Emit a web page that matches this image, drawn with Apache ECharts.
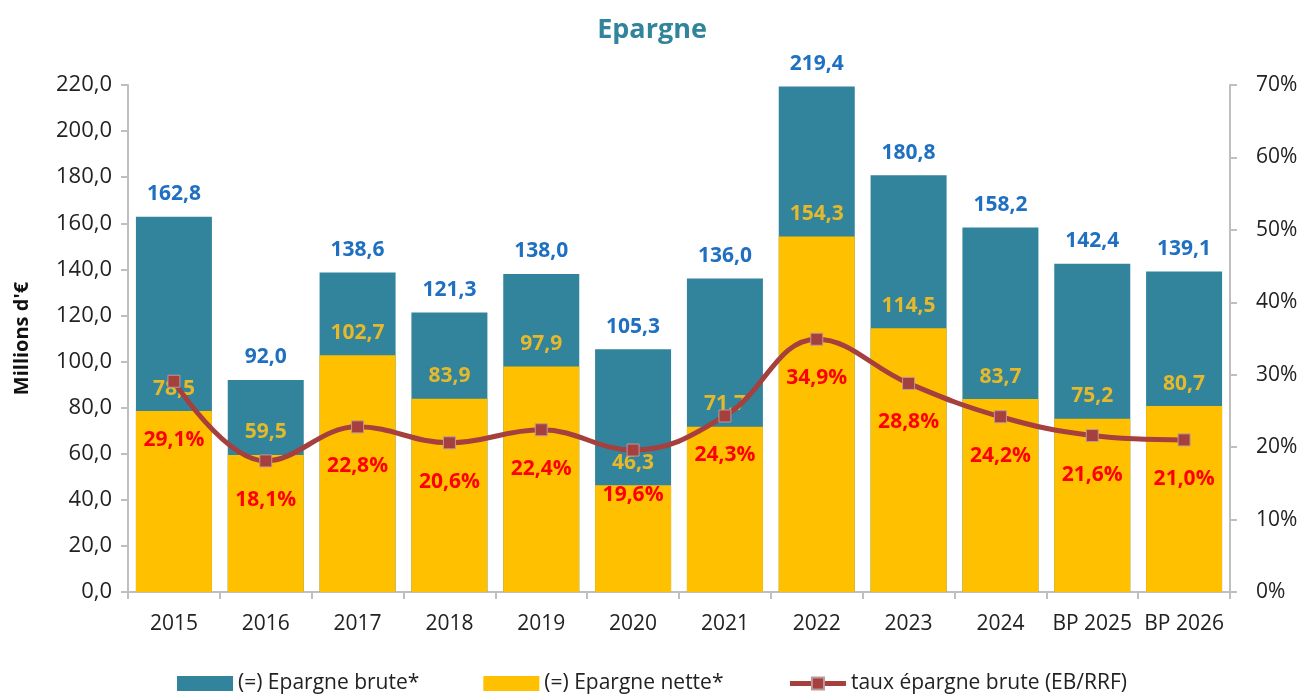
<!DOCTYPE html>
<html><head><meta charset="utf-8">
<script src="https://cdn.jsdelivr.net/npm/echarts@6/dist/echarts.min.js"></script>
<style>html,body{margin:0;padding:0;background:#fff}#c{width:1304px;height:696px}</style>
</head><body><div id="c"></div>
<script>
const categories = ['2015','2016','2017','2018','2019','2020','2021','2022','2023','2024','BP 2025','BP 2026'];
const brute = [162.8, 92.0, 138.6, 121.3, 138.0, 105.3, 136.0, 219.4, 180.8, 158.2, 142.4, 139.1];
const nette = [78.5, 59.5, 102.7, 83.9, 97.9, 46.3, 71.7, 154.3, 114.5, 83.7, 75.2, 80.7];
const taux = [29.1, 18.1, 22.8, 20.6, 22.4, 19.6, 24.3, 34.9, 28.8, 24.2, 21.6, 21.0];
const FONT = '"Open Sans", "Noto Sans", sans-serif';
const fmt = v => v.toFixed(1).replace('.', ',');
const chart = echarts.init(document.getElementById('c'));
const tauxData = taux.map((v, i) => i === 0 ? {value: v, label: {distance: 42}} : (i === 5 ? {value: v, label: {distance: 28}} : v));
chart.setOption({
  animation: false,
  textStyle: {fontFamily: FONT},
  title: {text: 'Epargne', left: 'center', top: 12, textStyle: {color: '#31849B', fontSize: 27, fontWeight: 'bold', fontFamily: FONT}},
  grid: {left: 128, right: 74, top: 85, bottom: 104},
  legend: {
    top: 668, itemGap: 64, itemWidth: 56, itemHeight: 15,
    textStyle: {fontSize: 21, color: '#222', fontFamily: FONT},
    data: [
      {name: '(=) Epargne brute*', icon: 'rect'},
      {name: '(=) Epargne nette*', icon: 'rect'},
      {name: 'taux épargne brute (EB/RRF)', lineStyle: {width: 5}}
    ]
  },
  xAxis: {
    type: 'category', data: categories,
    axisLine: {lineStyle: {color: '#BFBFBF', width: 2}},
    axisTick: {show: true, length: 7, lineStyle: {color: '#BFBFBF', width: 2}},
    axisLabel: {color: '#222', fontSize: 21, margin: 22, interval: 0, fontFamily: FONT}
  },
  yAxis: [
    {type: 'value', min: 0, max: 220, interval: 20,
     name: "Millions d'€", nameLocation: 'middle', nameGap: 96, nameRotate: 90,
     nameTextStyle: {fontSize: 20, fontWeight: 'bold', color: '#111', fontFamily: FONT},
     axisLine: {show: true, lineStyle: {color: '#BFBFBF', width: 2}},
     axisTick: {show: true, length: 7, lineStyle: {color: '#BFBFBF', width: 2}},
     splitLine: {show: false},
     axisLabel: {color: '#222', fontSize: 22, margin: 16, formatter: v => fmt(v), fontFamily: FONT}},
    {type: 'value', min: 0, max: 70, interval: 10, position: 'right',
     axisLine: {show: true, lineStyle: {color: '#BFBFBF', width: 2}},
     axisTick: {show: true, length: 7, lineStyle: {color: '#BFBFBF', width: 2}},
     splitLine: {show: false},
     axisLabel: {color: '#222', fontSize: 21, margin: 26, formatter: v => v + '%', fontFamily: FONT}}
  ],
  series: [
    {name: '(=) Epargne brute*', type: 'bar', data: brute, barWidth: 76, barGap: '-100%',
     itemStyle: {color: '#31849B'},
     label: {show: true, position: 'top', distance: 12, color: '#1F70C1', fontSize: 21, fontWeight: 'bold', formatter: p => fmt(p.value), fontFamily: FONT}},
    {name: '(=) Epargne nette*', type: 'bar', data: nette, barWidth: 76,
     itemStyle: {color: '#FFC000'},
     label: {show: true, position: 'top', distance: 12, color: '#E6B92A', fontSize: 21, fontWeight: 'bold', formatter: p => fmt(p.value), fontFamily: FONT}},
    {name: 'taux épargne brute (EB/RRF)', type: 'line', yAxisIndex: 1, data: tauxData, smooth: 0.4,
     symbol: 'rect', symbolSize: 12, z: 5,
     lineStyle: {color: '#A5403E', width: 5},
     itemStyle: {color: '#A5403E', borderColor: '#B99A9A', borderWidth: 1},
     label: {show: true, position: 'bottom', distance: 22, color: '#FF0000', fontSize: 21, fontWeight: 'bold', formatter: p => fmt(p.value) + '%', fontFamily: FONT}}
  ]
});
</script></body></html>
